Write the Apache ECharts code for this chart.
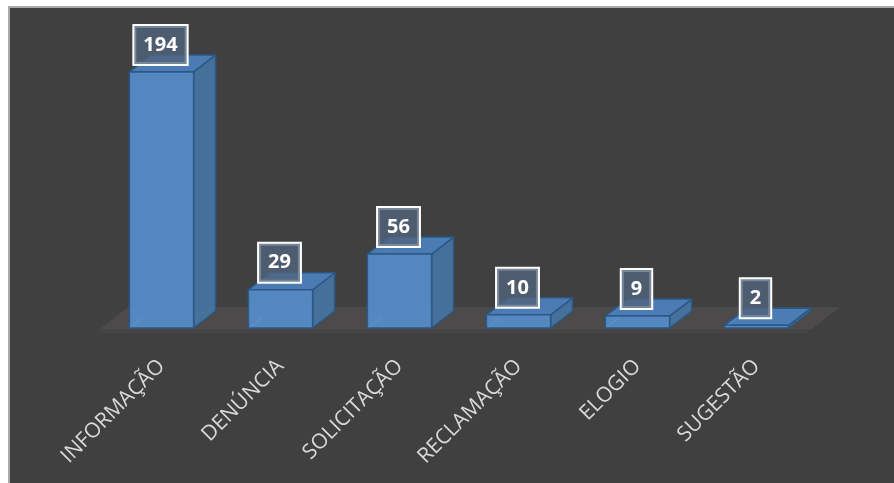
<!DOCTYPE html>
<html>
<head>
<meta charset="utf-8">
<script src="https://cdn.jsdelivr.net/npm/echarts@6/dist/echarts.min.js"></script>
<style>
  html, body { margin: 0; padding: 0; background: #ffffff; }
  #chart { width: 894px; height: 483px; }
</style>
</head>
<body>
<div id="chart"></div>
<script>
// Atendimentos por tipo de manifestação
const categories = ['INFORMAÇÃO', 'DENÚNCIA', 'SOLICITAÇÃO', 'RECLAMAÇÃO', 'ELOGIO', 'SUGESTÃO'];
const values = [194, 29, 56, 10, 9, 2];

// 3D box geometry (pixels)
const DEPTH_X = 22;
const DEPTH_Y = -17;
const BAR_RATIO = 0.54;

const EDGE = '#2a5685';
const FRONT = '#558bc6';
const SIDE = '#46739f';
const TOP = '#4b80b9';
const HIDDEN = 'rgba(120,170,225,0.35)';

function renderBox(params, api) {
  const idx = api.value(0);
  const val = api.value(1);
  const top = api.coord([idx, val]);
  const base = api.coord([idx, 0]);
  const bw = api.size([1, 0])[0] * BAR_RATIO;
  const x0 = top[0] - bw / 2;
  const x1 = top[0] + bw / 2;
  const yt = top[1];
  const yb = base[1];
  const dx = DEPTH_X, dy = DEPTH_Y;
  const edge = { stroke: EDGE, lineWidth: 1.5, lineJoin: 'round' };

  return {
    type: 'group',
    children: [
      // back edges seen through the translucent box
      {
        type: 'polyline',
        shape: { points: [[x0, yb], [x0 + dx, yb + dy], [x1 + dx, yb + dy]] },
        style: { stroke: HIDDEN, lineWidth: 1, fill: null }
      },
      {
        type: 'line',
        shape: { x1: x0 + dx, y1: yb + dy, x2: x0 + dx, y2: yt + dy },
        style: { stroke: HIDDEN, lineWidth: 1 }
      },
      {
        type: 'polygon',
        shape: { points: [[x1, yt], [x1 + dx, yt + dy], [x1 + dx, yb + dy], [x1, yb]] },
        style: Object.assign({ fill: SIDE, opacity: 0.95 }, edge)
      },
      {
        type: 'polygon',
        shape: { points: [[x0, yt], [x0 + dx, yt + dy], [x1 + dx, yt + dy], [x1, yt]] },
        style: Object.assign({ fill: TOP, opacity: 0.95 }, edge)
      },
      {
        type: 'rect',
        shape: { x: x0, y: yt, width: bw, height: yb - yt },
        style: Object.assign({ fill: FRONT, opacity: 0.95 }, edge)
      },
      {
        type: 'polyline',
        shape: { points: [[x0 + 2, yb - 1], [x0 + dx * 0.6, yb + dy * 0.6]] },
        style: { stroke: HIDDEN, lineWidth: 1, fill: null }
      },
      // value callout
      {
        type: 'text',
        z2: 20,
        x: top[0] - 1,
        y: yt - 8,
        style: {
          text: String(val),
          align: 'center',
          verticalAlign: 'bottom',
          font: 'bold 20px "Noto Sans", sans-serif',
          fill: '#ffffff',
          lineHeight: 22,
          padding: [8, 9, 8, 9],
          backgroundColor: 'rgba(82,100,124,0.78)',
          borderColor: '#ffffff',
          borderWidth: 2,
          boxShadowBlur: 12,
          boxShadowColor: 'rgba(0,0,0,0.22)',
          boxShadowOffsetX: 0,
          boxShadowOffsetY: 0
        }
      }
    ]
  };
}

const chart = echarts.init(document.getElementById('chart'), null, { renderer: 'canvas' });

chart.setOption({
  backgroundColor: '#ffffff',
  animation: false,
  graphic: [
    {
      type: 'rect',
      z: -10,
      shape: { x: 9, y: 7, width: 900, height: 500 },
      style: { fill: '#404040', stroke: '#a9a9a9', lineWidth: 2 }
    },
    {
      type: 'polygon',
      z: -9,
      shape: { points: [[100, 329], [128, 307], [840, 307], [812, 329]] },
      style: { fill: '#4c4a4a' }
    },
    {
      type: 'polygon',
      z: -9,
      shape: { points: [[100, 329], [812, 329], [808, 333], [96, 333]] },
      style: { fill: '#454343' }
    }
  ],
  grid: { left: 102, right: 78, top: 64, bottom: 155 },
  xAxis: {
    type: 'category',
    data: categories,
    axisLine: { show: false },
    axisTick: { show: false },
    splitLine: { show: false },
    axisLabel: {
      rotate: 45,
      interval: 0,
      margin: 35,
      color: '#d9d9d9',
      fontFamily: '"Open Sans", sans-serif',
      fontSize: 21
    }
  },
  yAxis: {
    type: 'value',
    min: 0,
    max: 200,
    show: false
  },
  series: [
    {
      type: 'custom',
      renderItem: renderBox,
      encode: { x: 0, y: 1 },
      data: values.map((v, i) => [i, v])
    }
  ]
});
</script>
</body>
</html>
